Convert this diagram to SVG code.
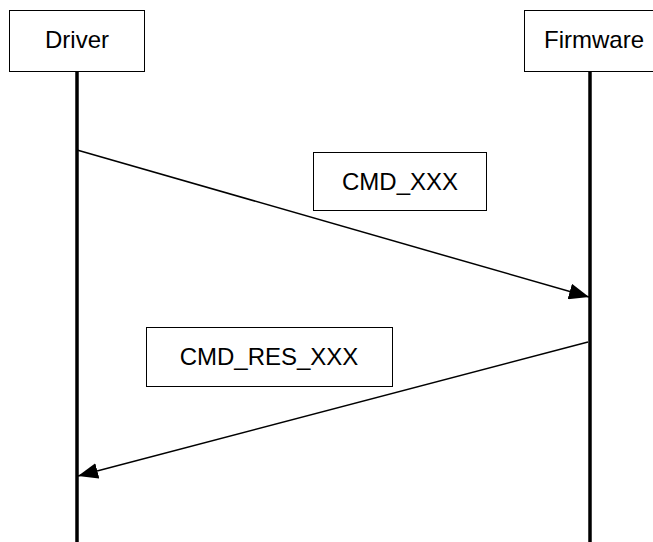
<svg xmlns="http://www.w3.org/2000/svg" width="653" height="542" viewBox="0 0 653 542">
<style>
.box{fill:#fff;stroke:#000;stroke-width:1}
.t{font-family:"Liberation Sans",Arial,sans-serif;font-size:24px;fill:#000;text-anchor:middle}
.life{stroke:#000;stroke-width:3.5}
.msg{stroke:#000;stroke-width:1.5;fill:none}
</style>
<defs>
<marker id="ah" markerUnits="userSpaceOnUse" markerWidth="20" markerHeight="16" refX="20" refY="8" orient="auto">
<path d="M0,0 L20,8 L0,16 Z" fill="#000"/>
</marker>
</defs>
<rect width="653" height="542" fill="#fff"/>
<g id="driver">
<rect class="box" x="9.5" y="10.5" width="135" height="61"/>
<text class="t" x="77" y="48">Driver</text>
<line class="life" x1="77" y1="71" x2="77" y2="542"/>
</g>
<g id="firmware">
<rect class="box" x="524.5" y="10.5" width="140" height="61"/>
<text class="t" x="594" y="48">Firmware</text>
<line class="life" x1="590" y1="71" x2="590" y2="542"/>
</g>
<g id="connectors">
<line class="msg" x1="77" y1="150" x2="589" y2="297" marker-end="url(#ah)"/>
<line class="msg" x1="588" y1="342" x2="78" y2="476" marker-end="url(#ah)"/>
</g>
<g id="label-cmd">
<rect class="box" x="313.5" y="152.5" width="173" height="58"/>
<text class="t" x="400" y="190">CMD_XXX</text>
</g>
<g id="label-res">
<rect class="box" x="146.5" y="327.5" width="246" height="59"/>
<text class="t" x="269" y="365">CMD_RES_XXX</text>
</g>
</svg>
